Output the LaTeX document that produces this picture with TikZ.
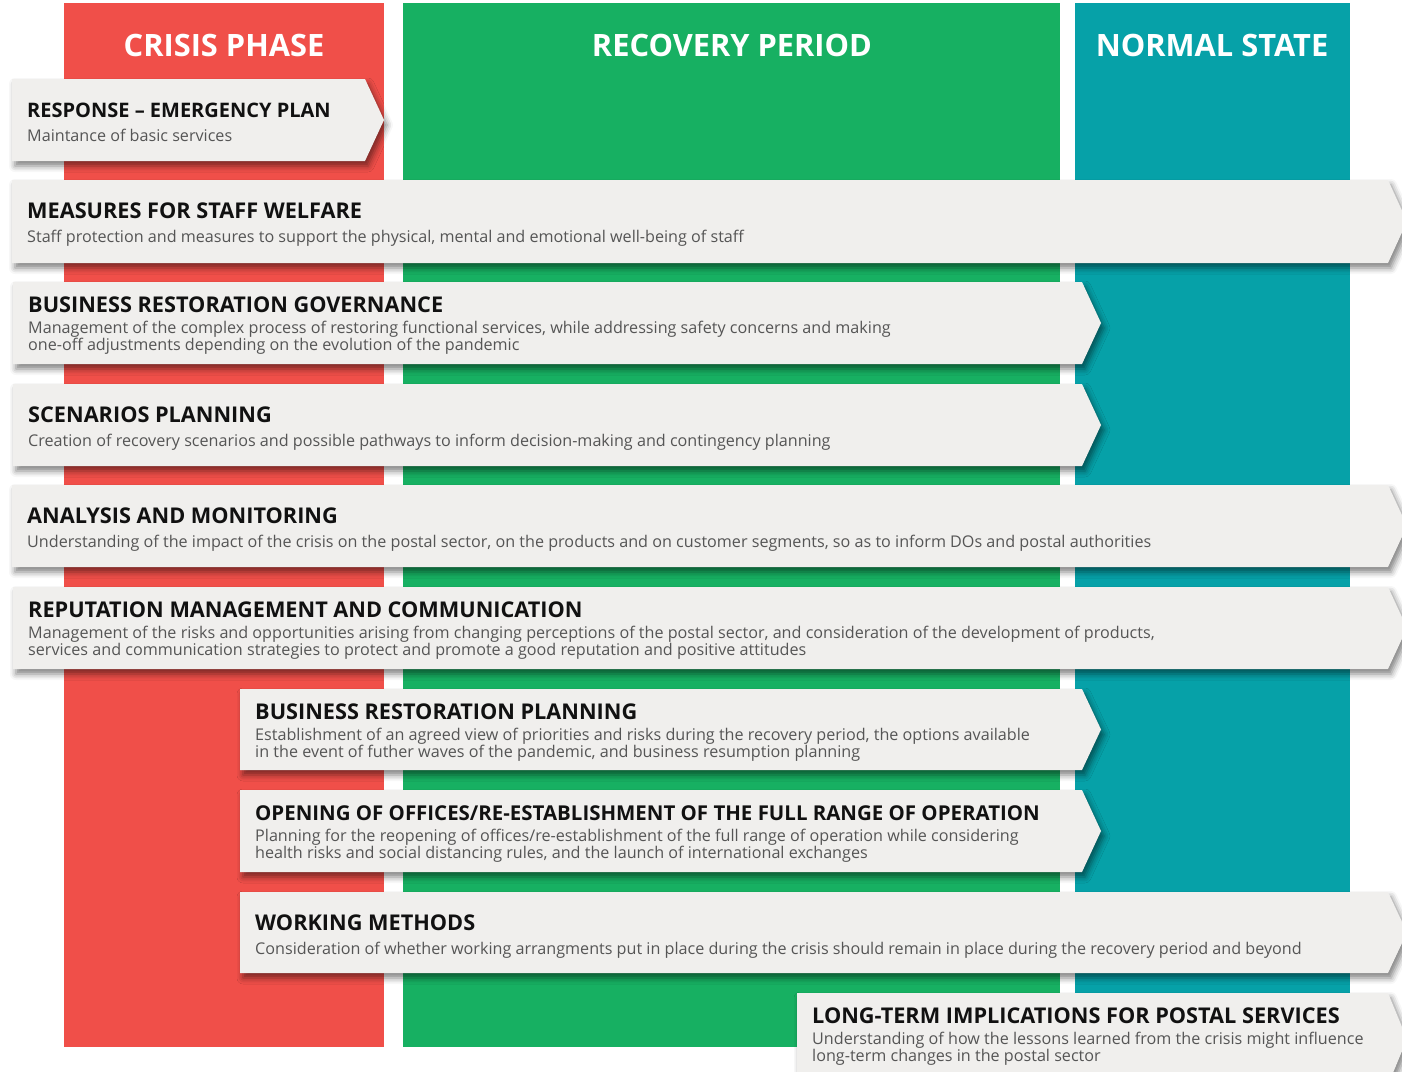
\documentclass[tikz,border=0pt]{standalone}
\usepackage{fontspec}
\setmainfont{Open Sans}
\usetikzlibrary{positioning,shadows.blur}

\definecolor{crisisred}{HTML}{F04F49}
\definecolor{recoverygreen}{HTML}{17B062}
\definecolor{normalteal}{HTML}{06A1A8}
\definecolor{cardgray}{HTML}{F0EFED}
\definecolor{titleblack}{HTML}{111111}
\definecolor{textgray}{HTML}{555555}

\tikzset{
  column/.style={draw=none, inner sep=0pt, anchor=north west},
  heading/.style={anchor=base, inner sep=0pt, text=white,
    font=\fontsize{30.8}{32}\selectfont\bfseries},
  card/.style={fill=cardgray,
    blur shadow={shadow xshift=3pt, shadow yshift=-5pt,
      shadow blur radius=6pt, shadow opacity=50}},
  cardtitle/.style={anchor=base west, inner sep=0pt, text=titleblack,
    font=\fontsize{21.7}{24}\selectfont\bfseries},
  cardtext/.style={anchor=base west, inner sep=0pt, align=left, text=textgray,
    font=\fontsize{16.15}{17.5}\selectfont}
}

% card: [title options], name, left, top, tip, bottom, lines of text, title, text
% (a multi-line node sits on the baseline of its last line)
\newcommand{\phasecard}[9][]{%
  \fill[card] (#3,#4) -- (#5-19,#4) -- (#5,{(#4+#6)/2}) -- (#5-19,#6)
    -- (#3,#6) -- cycle;
  \node[cardtitle,#1] (#2) at (#3+15,{#4+38-8*(#7-1)}) {#8};
  \node[cardtext] (#2 text) at (#3+15,{#4+62+6.5*(#7-1)}) {#9};
}

\begin{document}
\begin{tikzpicture}[x=1pt,y=-1pt]
\useasboundingbox (0,0) rectangle (1402,1071);

% the three phases
\node[column, fill=crisisred, minimum width=320pt, minimum height=1044pt]
  (crisis) at (64,3) {};
\node[column, fill=recoverygreen, minimum width=657pt, minimum height=1044pt]
  (recovery) at (403,3) {};
\node[column, fill=normalteal, minimum width=275pt, minimum height=1044pt]
  (normal) at (1075,3) {};
\node[heading] (crisis head) at (224,56) {CRISIS PHASE};
\node[heading] (recovery head) at (732,56) {RECOVERY PERIOD};
\node[heading] (normal head) at (1212,56) {NORMAL STATE};

% workstreams
\phasecard[font=\fontsize{20}{24}\selectfont\bfseries]{response}{12}{79}{384}{161}{1}
  {RESPONSE -- EMERGENCY PLAN}
  {Maintance of basic services}
\phasecard{welfare}{12}{180}{1407}{263}{1}{MEASURES FOR STAFF WELFARE}
  {Staff protection and measures to support the physical, mental and emotional well-being of staff}
\phasecard{governance}{13}{282}{1101}{364}{2}{BUSINESS RESTORATION GOVERNANCE}
  {Management of the complex process of restoring functional services, while addressing safety concerns and making\\
   one-off adjustments depending on the evolution of the pandemic}
\phasecard{scenarios}{13}{384}{1101}{466}{1}{SCENARIOS PLANNING}
  {Creation of recovery scenarios and possible pathways to inform decision-making and contingency planning}
\phasecard{analysis}{12}{485}{1407}{567}{1}{ANALYSIS AND MONITORING}
  {Understanding of the impact of the crisis on the postal sector, on the products and on customer segments, so as to inform DOs and postal authorities}
\phasecard{reputation}{13}{587}{1407}{669}{2}{REPUTATION MANAGEMENT AND COMMUNICATION}
  {Management of the risks and opportunities arising from changing perceptions of the postal sector, and consideration of the development of products,\\
   services and communication strategies to protect and promote a good reputation and positive attitudes}
\phasecard{planning}{240}{689}{1101}{770}{2}{BUSINESS RESTORATION PLANNING}
  {Establishment of an agreed view of priorities and risks during the recovery period, the options available\\
   in the event of futher waves of the pandemic, and business resumption planning}
\phasecard[font=\fontsize{20.45}{24}\selectfont\bfseries]{offices}{240}{790}{1101}{872}{2}
  {OPENING OF OFFICES/RE-ESTABLISHMENT OF THE FULL RANGE OF OPERATION}
  {Planning for the reopening of offices/re-establishment of the full range of operation while considering\\
   health risks and social distancing rules, and the launch of international exchanges}
\phasecard{methods}{240}{892}{1407}{973}{1}{WORKING METHODS}
  {Consideration of whether working arrangments put in place during the crisis should remain in place during the recovery period and beyond}
\phasecard{longterm}{797}{993}{1407}{1085}{2}{LONG-TERM IMPLICATIONS FOR POSTAL SERVICES}
  {Understanding of how the lessons learned from the crisis might influence\\
   long-term changes in the postal sector}
\end{tikzpicture}
\end{document}
